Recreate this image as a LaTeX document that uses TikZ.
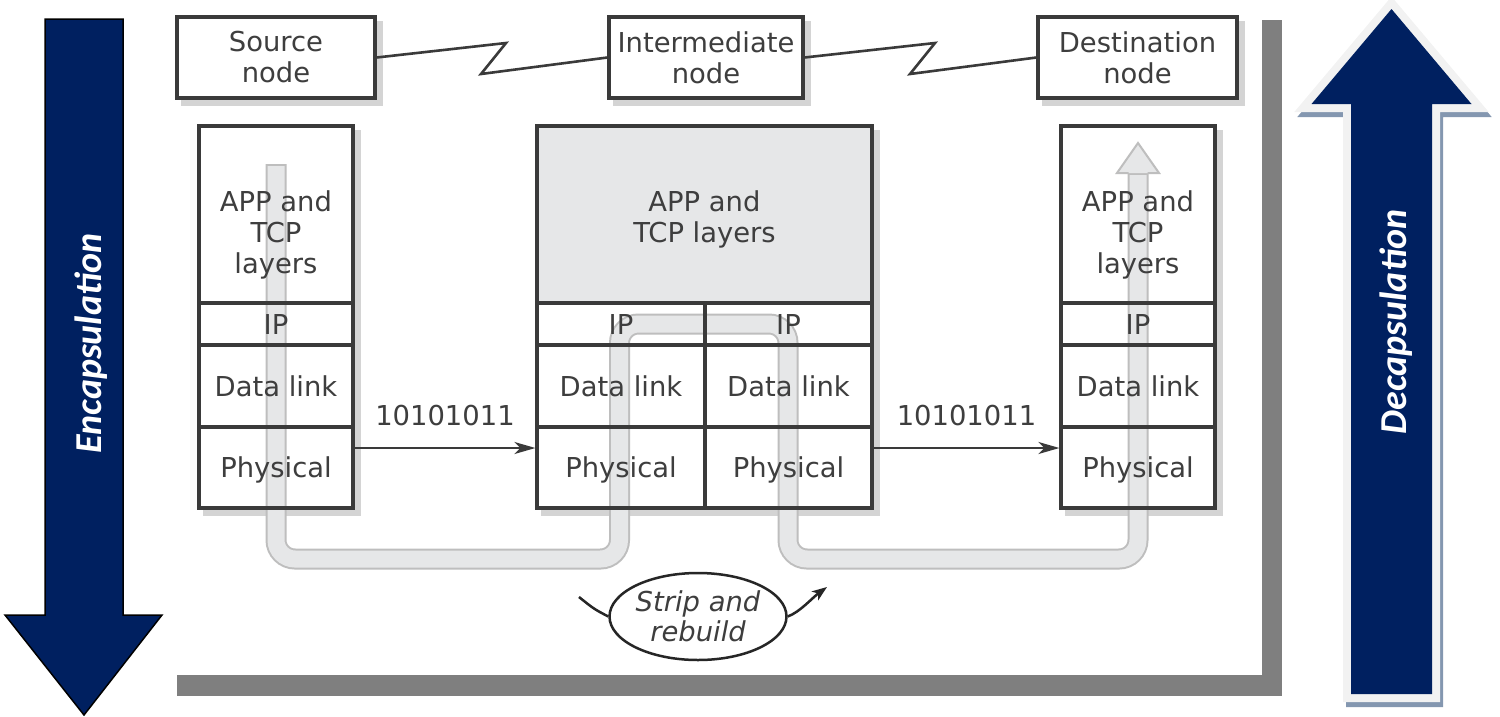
\documentclass[tikz,border=0pt]{standalone}
\usepackage{fontspec}
\setmainfont{DejaVu Sans}
\newfontfamily\capfont{Carlito}
\usetikzlibrary{arrows.meta,shapes.geometric}

\definecolor{navy}{RGB}{0,32,96}
\definecolor{edgelight}{RGB}{242,242,242}
\definecolor{edgeshade}{RGB}{132,151,176}
\definecolor{framegray}{RGB}{127,127,127}
\definecolor{ink}{RGB}{62,62,62}
\definecolor{boxline}{RGB}{58,58,58}
\definecolor{bandfill}{RGB}{230,231,232}
\definecolor{bandline}{RGB}{190,190,190}
\definecolor{dropshade}{RGB}{212,212,212}
\definecolor{appfill}{RGB}{230,231,232}

\pgfdeclarelayer{bg}
\pgfdeclarelayer{shade}
\pgfdeclarelayer{fills}
\pgfdeclarelayer{band}
\pgfsetlayers{bg,shade,fills,band,main}

\newcommand\dropbox[2]{\fill[dropshade] ([shift={(6pt,-6pt)}]#1.north west) rectangle ([shift={(6pt,-6pt)}]#2.south east);}

\begin{document}
\begin{tikzpicture}[x=1pt,y=-1pt,
  lbl/.style={font=\fontsize{27.4}{31}\selectfont, text=ink},
  topbox/.style={lbl, draw=boxline, line width=3.2pt, rectangle, minimum height=81pt, align=center, inner sep=0pt},
  cell/.style={lbl, draw=boxline, line width=3.2pt, rectangle, inner sep=0pt, text height=20.8pt, text depth=0pt},
  wire/.style={draw=boxline, line width=2.6pt},
  link/.style={draw=boxline, line width=2.4pt, -{Stealth[length=21pt,width=12pt,inset=6pt]}},
  bits/.style={lbl, midway, above=21pt, inner sep=0pt, text height=20.8pt, text depth=0pt},
  bigword/.style={rotate=90, text=white, font=\capfont\bfseries\itshape\fontsize{38}{40}\selectfont}
]
\useasboundingbox (0,0) rectangle (1500,716);

% panel with its grey drop shadow, and the two side arrows
\begin{pgfonlayer}{bg}
  \fill[framegray] (177,20) rectangle (1282,696);
  \fill[white] (165,0) rectangle (1262,675);

  \filldraw[fill=navy, draw=black, line width=1.5pt]
    (45,19) -- (123,19) -- (123,615) -- (162,615) -- (84,715) -- (5,615) -- (45,615) -- cycle;

  \filldraw[edgeshade, line width=16pt, shift={(3pt,-5pt)}]
    (1391.5,9) -- (1471.5,104) -- (1432,104) -- (1432,694) -- (1351,694) -- (1351,104) -- (1311.5,104) -- cycle;
  \filldraw[edgelight, line width=16pt]
    (1391.5,9) -- (1471.5,104) -- (1432,104) -- (1432,694) -- (1351,694) -- (1351,104) -- (1311.5,104) -- cycle;
  \fill[navy]
    (1391.5,9) -- (1471.5,104) -- (1432,104) -- (1432,694) -- (1351,694) -- (1351,104) -- (1311.5,104) -- cycle;
\end{pgfonlayer}

\node[bigword] (enc) at (91.5,343.5) {Encapsulation};
\node[bigword] (dec) at (1396.5,322) {Decapsulation};

% end systems and router
\node[topbox, minimum width=198pt] (src) at (276,57.5) {Source\\node};
\node[topbox, minimum width=194pt] (mid) at (706,57.5) {Intermediate\\node};
\node[topbox, minimum width=199pt] (dst) at (1137.5,57.5) {Destination\\node};

\draw[wire] (src.east) -- (506,43) -- (481,74) -- (mid.west);
\draw[wire] (mid.east) -- (935,43) -- (910,74) -- (dst.west);

% source stack
\node[cell, minimum width=154pt, minimum height=177pt] (sApp) at (276,214.5) {};
\node[cell, minimum width=154pt, minimum height=42pt] (sIP) at (276,324) {IP};
\node[cell, minimum width=154pt, minimum height=82pt] (sDL) at (276,386) {Data link};
\node[cell, minimum width=154pt, minimum height=81pt] (sPh) at (276,467.5) {Physical};
\node[lbl, align=center] (sAppT) at (276,235) {APP and\\TCP\\layers};

% router stack
\node[cell, minimum width=335pt, minimum height=177pt] (mApp) at (704.5,214.5) {};
\node[cell, minimum width=168pt, minimum height=42pt] (mIPa) at (621,324) {IP};
\node[cell, minimum width=167pt, minimum height=42pt] (mIPb) at (788.5,324) {IP};
\node[cell, minimum width=168pt, minimum height=82pt] (mDLa) at (621,386) {Data link};
\node[cell, minimum width=167pt, minimum height=82pt] (mDLb) at (788.5,386) {Data link};
\node[cell, minimum width=168pt, minimum height=81pt] (mPha) at (621,467.5) {Physical};
\node[cell, minimum width=167pt, minimum height=81pt] (mPhb) at (788.5,467.5) {Physical};
\node[lbl, align=center] (mAppT) at (704.5,219) {APP and\\TCP layers};

% destination stack
\node[cell, minimum width=154pt, minimum height=177pt] (dApp) at (1138,214.5) {};
\node[cell, minimum width=154pt, minimum height=42pt] (dIP) at (1138,324) {IP};
\node[cell, minimum width=154pt, minimum height=82pt] (dDL) at (1138,386) {Data link};
\node[cell, minimum width=154pt, minimum height=81pt] (dPh) at (1138,467.5) {Physical};
\node[lbl, align=center] (dAppT) at (1138,235) {APP and\\TCP\\layers};

% bit streams on the physical links
\draw[link] ([yshift=19.5pt]sPh.east) -- node[bits] (bitsA) {10101011} ([yshift=19.5pt]mPha.west);
\draw[link] ([yshift=19.5pt]mPhb.east) -- node[bits] (bitsB) {10101011} ([yshift=19.5pt]dPh.west);

% drop shadows and fills under the boxes
\begin{pgfonlayer}{shade}
  \dropbox{src}{src}
  \dropbox{mid}{mid}
  \dropbox{dst}{dst}
  \dropbox{sApp}{sPh}
  \dropbox{mApp}{mPhb}
  \dropbox{dApp}{dPh}
\end{pgfonlayer}
\begin{pgfonlayer}{fills}
  \fill[white] (src.north west) rectangle (src.south east);
  \fill[white] (mid.north west) rectangle (mid.south east);
  \fill[white] (dst.north west) rectangle (dst.south east);
  \fill[white] (sApp.north west) rectangle (sPh.south east);
  \fill[white] (mApp.north west) rectangle (mPhb.south east);
  \fill[white] (dApp.north west) rectangle (dPh.south east);
  \fill[appfill] (mApp.north west) rectangle (mApp.south east);
\end{pgfonlayer}

% route of the data through the layers
\begin{pgfonlayer}{band}
  \draw[bandline, line width=21pt, rounded corners=19pt]
    (276,164) -- (276,559) -- (619.5,559) -- (619.5,324) -- (788,324) -- (788,559) -- (1138,559) -- (1138,173);
  \draw[bandfill, line width=17pt, rounded corners=19pt]
    (276,166) -- (276,559) -- (619.5,559) -- (619.5,324) -- (788,324) -- (788,559) -- (1138,559) -- (1138,175);
  \fill[bandfill] (1117,173) -- (1138,143) -- (1159,173) -- cycle;
  \draw[bandline, line width=2pt, line join=miter]
    (1128.5,173) -- (1117,173) -- (1138,143) -- (1159,173) -- (1147.5,173);
\end{pgfonlayer}

% strip and rebuild at the router
\node[ellipse, draw=black!85, line width=2.5pt, minimum width=177pt, minimum height=87pt, inner sep=0pt,
      align=center, text=ink, font=\fontsize{27.4}{30}\selectfont\itshape] (strip) at (698,616.5) {Strip and\\rebuild};
\coordinate (sl) at (579,597);
\coordinate (sr) at (827,587);
\draw[draw=black!85, line width=2.5pt] (sl) .. controls (594,609) .. (strip.west);
\draw[draw=black!85, line width=2.5pt, -{Stealth[length=15pt,width=11pt,inset=4pt]}]
  (strip.east) .. controls (800,612) and (812,598) .. (sr);
\end{tikzpicture}
\end{document}
